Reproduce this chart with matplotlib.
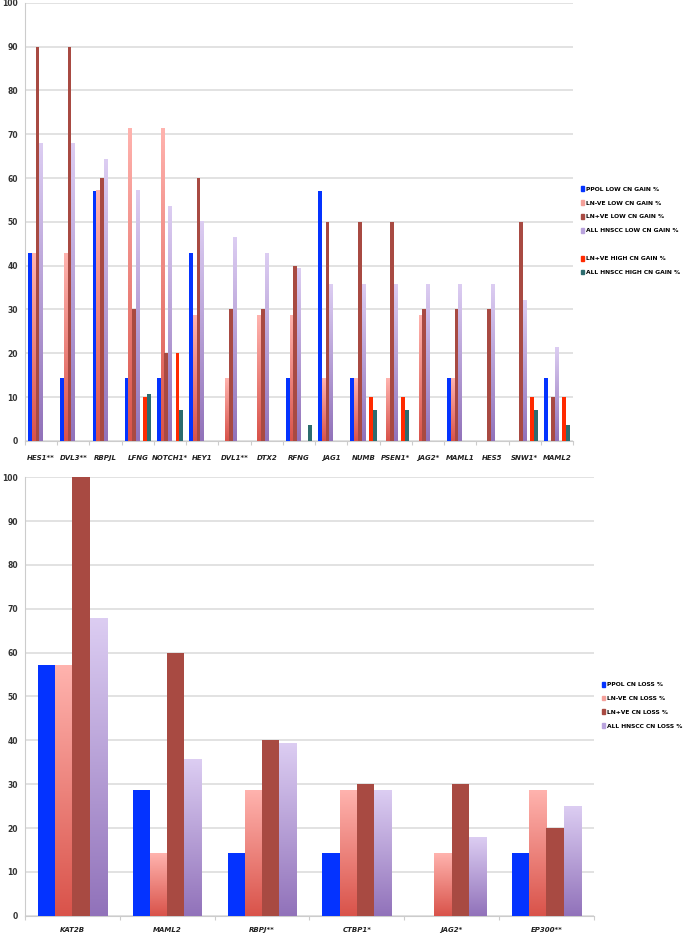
import numpy as np
import matplotlib
matplotlib.use("Agg")
import matplotlib.pyplot as plt
from matplotlib.colors import to_rgba
from matplotlib.patches import Patch

# top panel: copy number gain
gain_genes = ["HES1**", "DVL3**", "RBPJL", "LFNG", "NOTCH1*", "HEY1", "DVL1**", "DTX2",
              "RFNG", "JAG1", "NUMB", "PSEN1*", "JAG2*", "MAML1", "HES5", "SNW1*", "MAML2"]
ppol_low_gain = [42.9, 14.3, 57.1, 14.3, 14.3, 42.9, 0, 0, 14.3, 57.1, 14.3, 0, 0, 14.3, 0, 0, 14.3]
lnneg_low_gain = [42.9, 42.9, 57.1, 71.4, 71.4, 28.6, 14.3, 28.6, 28.6, 14.3, 14.3, 14.3, 28.6, 14.3, 0, 0, 0]
lnpos_low_gain = [90, 90, 60, 30, 20, 60, 30, 30, 40, 50, 50, 50, 30, 30, 30, 50, 10]
all_low_gain = [67.9, 67.9, 64.3, 57.1, 53.6, 50, 46.4, 42.9, 39.3, 35.7, 35.7, 35.7, 35.7, 35.7, 35.7, 32.1, 21.4]
lnpos_high_gain = [0, 0, 0, 10, 20, 0, 0, 0, 0, 0, 10, 10, 0, 0, 0, 10, 10]
all_high_gain = [0, 0, 0, 10.7, 7.1, 0, 0, 0, 3.6, 0, 7.1, 7.1, 0, 0, 0, 7.1, 3.6]
gain_labels = ["PPOL LOW CN GAIN %", "LN-VE LOW CN GAIN %", "LN+VE LOW CN GAIN %",
               "ALL HNSCC LOW CN GAIN %", "", "LN+VE HIGH CN GAIN %", "ALL HNSCC HIGH CN GAIN %"]

# bottom panel: copy number loss
loss_genes = ["KAT2B", "MAML2", "RBPJ**", "CTBP1*", "JAG2*", "EP300**"]
ppol_loss = [57.1, 28.6, 14.3, 14.3, 0, 14.3]
lnneg_loss = [57.1, 14.3, 28.6, 28.6, 14.3, 28.6]
lnpos_loss = [100, 60, 40, 30, 30, 20]
all_loss = [67.9, 35.7, 39.3, 28.6, 17.9, 25]
loss_labels = ["PPOL CN LOSS %", "LN-VE CN LOSS %", "LN+VE CN LOSS %", "ALL HNSCC CN LOSS %"]

BLUE = "#0433ff"
PINK = ("#ffb3ae", "#d9534a")      # top, bottom of gradient
DARKRED = "#a84a42"
LAV = ("#dccdf2", "#9172ba")
RED = "#ff2a00"
TEAL = "#2c6c6e"

FONT = ["DejaVu Sans"]


def gradient_bars(ax, bars, top, bottom):
    c_top = np.array(to_rgba(top))
    c_bot = np.array(to_rgba(bottom))
    for rect in bars:
        h = rect.get_height()
        if h <= 0:
            continue
        x, w = rect.get_x(), rect.get_width()
        t = np.linspace(0, 1, 128)[:, None]
        img = (c_bot + (c_top - c_bot) * t)[:, None, :]
        ax.imshow(img, extent=[x, x + w, 0, h], origin="lower", aspect="auto",
                  interpolation="bilinear", zorder=3)
        rect.set_visible(False)


def style_axes(ax, genes):
    ax.set_ylim(0, 100)
    ax.set_xlim(-0.5, len(genes) - 0.5)
    ax.set_yticks(range(0, 101, 10))
    ax.set_yticklabels([str(v) for v in range(0, 101, 10)], fontsize=5.5,
                       fontweight="bold", family=FONT, color="#333333")
    ax.yaxis.grid(True, color="#dddddd", linewidth=1.2)
    ax.set_axisbelow(True)
    for s in ["top", "right"]:
        ax.spines[s].set_visible(False)
    ax.spines["left"].set_color("#cccccc")
    ax.spines["bottom"].set_color("#cccccc")
    ax.tick_params(axis="y", length=0, pad=5)
    ax.set_xticks(np.arange(len(genes) + 1) - 0.5)
    ax.set_xticklabels([])
    ax.set_xticks(np.arange(len(genes)), minor=True)
    ax.set_xticklabels(genes, minor=True, fontsize=5, fontweight="bold",
                       style="italic", family=FONT, color="#222222")
    ax.tick_params(axis="x", which="major", length=3, color="#cccccc")
    ax.tick_params(axis="x", which="minor", length=0, pad=10)


legend_kw = dict(loc="center left", frameon=False, handlelength=0.55, handleheight=0.9,
                 handletextpad=0.35, labelspacing=1.4,
                 prop={"family": FONT, "weight": "bold", "size": 4.3})

fig = plt.figure(figsize=(6.85, 9.34), dpi=100)

# ---- top panel ----
ax1 = fig.add_axes([0.0365, 0.528, 0.80, 0.469])
x = np.arange(len(gain_genes))
w = 0.116
ax1.bar(x - 3 * w, ppol_low_gain, w, color=BLUE, zorder=3)
b = ax1.bar(x - 2 * w, lnneg_low_gain, w, color=PINK[1], zorder=3)
gradient_bars(ax1, b, *PINK)
ax1.bar(x - 1 * w, lnpos_low_gain, w, color=DARKRED, zorder=3)
b = ax1.bar(x, all_low_gain, w, color=LAV[1], zorder=3)
gradient_bars(ax1, b, *LAV)
ax1.bar(x + 2 * w, lnpos_high_gain, w, color=RED, zorder=3)
ax1.bar(x + 3 * w, all_high_gain, w, color=TEAL, zorder=3)
style_axes(ax1, gain_genes)

handles = [Patch(color=c) for c in [BLUE, "#f4a09a", DARKRED, "#b9a3dd"]]
handles += [Patch(color="none"), Patch(color=RED), Patch(color=TEAL)]
ax1.legend(handles, gain_labels, bbox_to_anchor=(1.004, 0.48), **legend_kw)

# ---- bottom panel ----
ax2 = fig.add_axes([0.0365, 0.0196, 0.8305, 0.4694])
x = np.arange(len(loss_genes))
w = 0.182
ax2.bar(x - 1.5 * w, ppol_loss, w, color=BLUE, zorder=3)
b = ax2.bar(x - 0.5 * w, lnneg_loss, w, color=PINK[1], zorder=3)
gradient_bars(ax2, b, *PINK)
ax2.bar(x + 0.5 * w, lnpos_loss, w, color=DARKRED, zorder=3)
b = ax2.bar(x + 1.5 * w, all_loss, w, color=LAV[1], zorder=3)
gradient_bars(ax2, b, *LAV)
style_axes(ax2, loss_genes)
ax2.tick_params(axis="x", which="minor", pad=8)

handles = [Patch(color=c) for c in [BLUE, "#f4a09a", DARKRED, "#b9a3dd"]]
ax2.legend(handles, loss_labels, bbox_to_anchor=(1.004, 0.48), **legend_kw)

fig.savefig("out.png", dpi=100, facecolor="white")
